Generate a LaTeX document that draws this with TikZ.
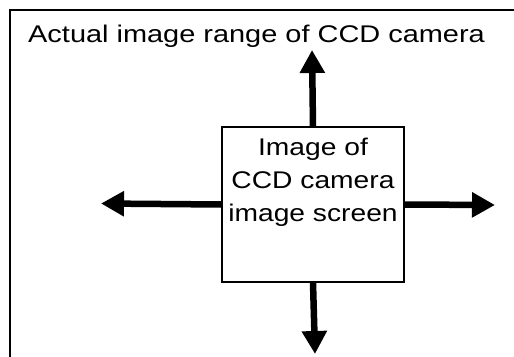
\documentclass[tikz,border=0pt]{standalone}
\usepackage{fontspec}
\usepackage{graphicx}
\setmainfont{Liberation Sans}
\usetikzlibrary{arrows.meta}

% text in the reference is wider than plain Arial
\newcommand{\widetext}[2]{\scalebox{#1}[1]{#2}}

\tikzset{
  screenbox/.style={draw, line width=1.3bp, minimum width=182bp, minimum height=155bp, inner sep=0pt},
  bigarrow/.style={-{Triangle[length=23bp, width=24bp]}, line width=6.5bp},
  lbl/.style={font=\fontsize{24.2}{33}\selectfont, inner sep=0pt}
}

\begin{document}
\begin{tikzpicture}[x=1bp, y=1bp]
  \useasboundingbox (0,0) rectangle (514,356);
  \clip (0,0) rectangle (514,356);
  % camera range, open to the right and bottom
  \draw[line width=2bp] (10,-20) -- (10,346) -- (530,346);
  \node[lbl, anchor=base west] (title) at (28,314) {\widetext{1.2}{Actual image range of CCD camera}};

  % screen image in the middle
  \node[screenbox] (screen) at (313,151.5) {};
  \node[lbl, anchor=base] (screentext) at ([yshift=-29bp]screen.north)
    {\widetext{1.17}{\begin{tabular}[t]{@{}c@{}}Image of\\CCD camera\\image screen\end{tabular}}};

  % tips of the four arrows
  \coordinate (uptip) at (312,306);
  \coordinate (downtip) at (315,2);
  \coordinate (lefttip) at (101,152.5);
  \coordinate (righttip) at (495,151);

  \draw[bigarrow] (screen.north) -- (uptip);
  \draw[bigarrow] (screen.south) -- (downtip);
  \draw[bigarrow] (screen.west) -- (lefttip);
  \draw[bigarrow] (screen.east) -- (righttip);
\end{tikzpicture}
\end{document}
